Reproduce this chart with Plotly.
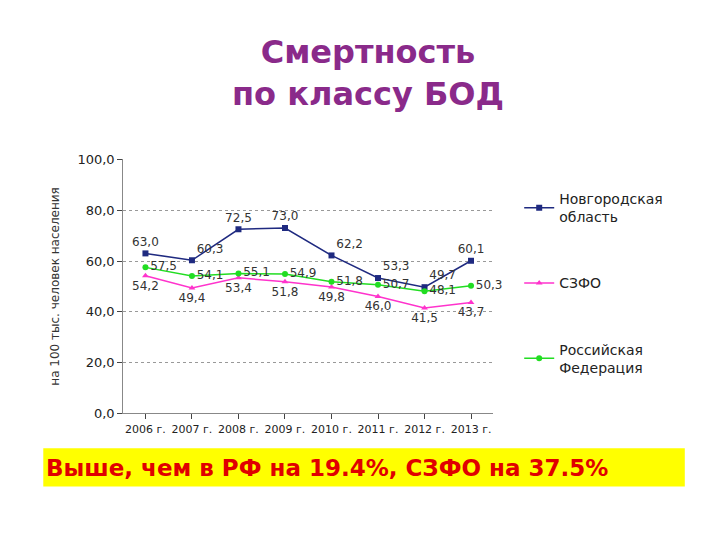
import plotly.graph_objects as go

years = ["2006 г.", "2007 г.", "2008 г.", "2009 г.", "2010 г.", "2011 г.", "2012 г.", "2013 г."]
novgorod = [63.0, 60.3, 72.5, 73.0, 62.2, 53.3, 49.7, 60.1]
szfo = [54.2, 49.4, 53.4, 51.8, 49.8, 46.0, 41.5, 43.7]
rf = [57.5, 54.1, 55.1, 54.9, 51.8, 50.7, 48.1, 50.3]
y_ticks = [0, 20, 40, 60, 80, 100]


def fmt(v):
    return f"{v:.1f}".replace(".", ",")


fig = go.Figure()
fig.add_trace(go.Scatter(
    x=years, y=novgorod, name="Новгородская<br>область", legendgroup="a",
    mode="lines+markers+text", text=[fmt(v) for v in novgorod],
    textposition=["top center", "top right", "top center", "top center",
                  "top right", "top right", "top right", "top center"],
    line=dict(color="#1f2a80", width=1.5), marker=dict(symbol="square", size=6),
    textfont=dict(size=12, color="#333"), cliponaxis=False))
fig.add_trace(go.Scatter(
    x=years, y=szfo, name="СЗФО", legendgroup="b",
    mode="lines+markers+text", text=[fmt(v) for v in szfo],
    textposition="bottom center",
    line=dict(color="#ff33cc", width=1.5), marker=dict(symbol="triangle-up", size=6),
    textfont=dict(size=12, color="#333"), cliponaxis=False))
fig.add_trace(go.Scatter(
    x=years, y=rf, name="Российская<br>Федерация", legendgroup="c",
    mode="lines+markers+text", text=[fmt(v) for v in rf],
    textposition="middle right",
    line=dict(color="#22dd22", width=1.5), marker=dict(symbol="circle", size=6),
    textfont=dict(size=12, color="#333"), cliponaxis=False))

fig.update_layout(
    width=720, height=540, margin=dict(l=0, r=0, t=0, b=0),
    paper_bgcolor="white", plot_bgcolor="white",
    font=dict(family="DejaVu Sans", color="#333"),
    showlegend=True,
    legend=dict(x=0.71, y=0.68, xanchor="left", yanchor="top",
                font=dict(size=14, color="#222"), tracegroupgap=45),
    xaxis=dict(domain=[0.16, 0.674], showline=True, linecolor="#888",
               ticks="outside", tickfont=dict(size=11, color="#222"), tickangle=0),
    yaxis=dict(domain=[0.241, 0.725], range=[0, 100], tickvals=y_ticks,
               ticktext=[fmt(v) for v in y_ticks], showline=True, linecolor="#888",
               ticks="outside", gridcolor="#999", griddash="dot",
               tickfont=dict(size=13, color="#222"),
               title=dict(text="на 100 тыс. человек населения", font=dict(size=12))),
    annotations=[
        dict(text="<b>Смертность<br>по классу БОД</b>", x=0.5, y=0.97, xref="paper", yref="paper",
             xanchor="center", yanchor="top", showarrow=False,
             font=dict(size=32, color="#8a2a8a", family="DejaVu Sans")),
        dict(text="<b>Выше, чем в РФ на 19.4%, СЗФО на 37.5%</b>", x=0.05, y=0.138,
             xref="paper", yref="paper", xanchor="left", yanchor="middle",
             showarrow=False, font=dict(size=23, color="#e00000")),
    ],
    shapes=[dict(type="rect", xref="paper", yref="paper", x0=0.049, x1=0.94,
                 y0=0.102, y1=0.175, fillcolor="#ffff00", line=dict(width=0), layer="below")],
)
fig.write_html("out.html")
